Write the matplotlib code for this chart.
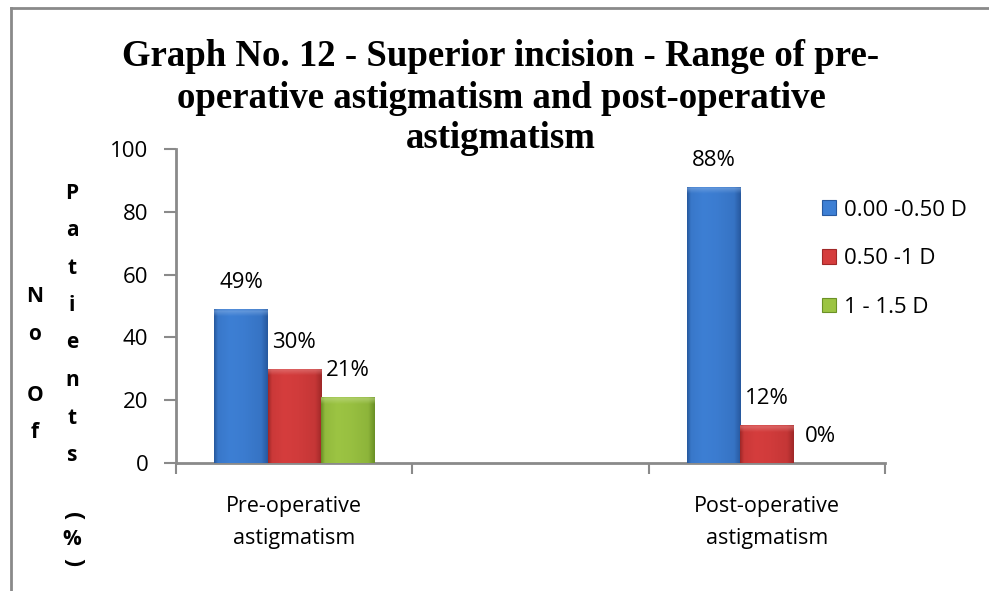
import numpy as np
import matplotlib
matplotlib.use("Agg")
import matplotlib.pyplot as plt
from matplotlib.lines import Line2D
from matplotlib.patches import Patch
from matplotlib.colors import to_rgb

# ---- data -------------------------------------------------------------
categories = ["Pre-operative\nastigmatism", "", "Post-operative\nastigmatism"]
series_names = ["0.00 -0.50 D", "0.50 -1 D", "1 - 1.5 D"]
low_range = [49, None, 88]     # 0.00 - 0.50 D
mid_range = [30, None, 12]     # 0.50 - 1 D
high_range = [21, None, 0]     # 1 - 1.5 D
series_values = [low_range, mid_range, high_range]
y_ticks = [0, 20, 40, 60, 80, 100]
title_lines = ["Graph No. 12 - Superior incision - Range of pre-",
               "operative astigmatism and post-operative",
               "astigmatism"]
ylabel_col1 = "No Of"
ylabel_col2 = "Patients (%)"

# ---- style ------------------------------------------------------------
colors = ["#3d7fd4", "#d53d3d", "#9cc443"]
edge_dark = ["#27599f", "#a02828", "#6b9126"]
axis_grey = "#8a8a8a"
sans = ["Open Sans", "DejaVu Sans"]
fs = 16

W, H = 989, 591
fig = plt.figure(figsize=(W / 100, H / 100), dpi=100)
fig.patch.set_facecolor("white")


def fx(px):
    return px / W


def fy(py):
    return 1 - py / H


ax = fig.add_axes([fx(176), fy(463), (885 - 176) / W, (463 - 149) / H])
ax.set_facecolor("white")

bar_w = 0.225
x = np.arange(len(categories))


def shade_bar(rect, base, dark):
    """Paint a bevelled, cylinder-like gradient inside a bar rectangle."""
    x0, y0 = rect.get_x(), rect.get_y()
    w, h = rect.get_width(), rect.get_height()
    if h <= 0:
        return
    b = np.array(to_rgb(base))
    d = np.array(to_rgb(dark))
    light = np.clip(b + 0.35 * (1 - b), 0, 1)
    nx, ny = 60, 300
    t = np.linspace(0, 1, nx)
    prof = np.interp(t, [0, 0.07, 0.3, 0.55, 0.88, 1.0],
                     [0.0, 0.8, 1.0, 0.92, 0.7, 0.0])
    row = d[None, :] + (b - d)[None, :] * prof[:, None]
    img = np.repeat(row[None, :, :], ny, axis=0)
    # lighter bevel along the top edge (about 2 units tall)
    cap = min(1.0, 2.2 / h)
    v = np.linspace(0, 1, ny)
    k = np.clip((v - (1 - cap)) / cap, 0, 1)[:, None, None]
    k = np.where(v[:, None, None] > 1 - cap * 0.15, 0.3, k * 0.75)
    img = img * (1 - k) + light[None, None, :] * k
    im = ax.imshow(img, extent=[x0, x0 + w, y0, y0 + h], aspect="auto",
                   interpolation="bilinear", zorder=3, origin="lower")
    im.set_clip_path(rect)


for i, (vals, c, dk) in enumerate(zip(series_values, colors, edge_dark)):
    xs = [xi + (i - 1) * bar_w for xi, v in zip(x, vals) if v is not None]
    hs = [v for v in vals if v is not None]
    bars = ax.bar(xs, hs, width=bar_w, color=c, edgecolor="none",
                  zorder=2, label=series_names[i])
    for rect, v in zip(bars, hs):
        shade_bar(rect, c, dk)
        ax.annotate(f"{v}%", (rect.get_x() + rect.get_width() / 2, v),
                    xytext=(0, 19), textcoords="offset points",
                    ha="center", va="center", fontsize=fs, family=sans,
                    color="black", zorder=5)

ax.set_xlim(-0.5, len(categories) - 0.5)
ax.set_ylim(0, 100)
ax.set_yticks(y_ticks)
ax.set_xticks(x)
ax.set_xticklabels(categories, family=sans, fontsize=fs - 0.5,
                   linespacing=1.65)
ax.set_xticks(np.arange(len(categories) + 1) - 0.5, minor=True)
ax.tick_params(axis="x", which="major", length=0, pad=24)
ax.tick_params(axis="x", which="minor", length=8, width=1.5,
               color=axis_grey, direction="out")
ax.tick_params(axis="y", length=9, width=1.5, color=axis_grey,
               direction="out", pad=11, labelsize=fs)
for lab in ax.get_yticklabels():
    lab.set_family(sans)
for side in ("top", "right"):
    ax.spines[side].set_visible(False)
for side in ("left", "bottom"):
    ax.spines[side].set_color(axis_grey)
    ax.spines[side].set_linewidth(2)

# ---- title, one line at a time ------------------------------------------
for line, py in zip(title_lines, (57, 98.5, 139)):
    fig.text(fx(501), fy(py), line, ha="center", va="center",
             family=["Liberation Serif", "DejaVu Serif"], fontweight="bold",
             fontsize=26.5)

# ---- stacked y-axis caption, one letter per line ----------------------
def stacked(text, px, py0, step=37.5):
    py = py0
    for ch in text:
        if ch == " ":
            py += step * 0.62
            continue
        rot = -90 if ch in "()" else 0
        size = 17 if ch in "()" else 15
        fig.text(fx(px), fy(py), ch, ha="center", va="center",
                 family=sans, fontweight="bold", fontsize=size, rotation=rot)
        py += 23 if ch in "(%" else step


stacked(ylabel_col1, 35, 297)
stacked(ylabel_col2, 72, 193)

# ---- legend -------------------------------------------------------------
handles = [Patch(facecolor=c, edgecolor=dk, linewidth=0.8)
           for c, dk in zip(colors, edge_dark)]
fig.legend(handles, series_names, loc="upper left",
           bbox_to_anchor=(fx(815), fy(193)), frameon=False,
           prop={"family": sans, "size": fs}, handlelength=0.65,
           handleheight=0.65, handletextpad=0.35, labelspacing=1.24,
           borderaxespad=0, borderpad=0.3)

# ---- outer chart frame (left and top edges) -----------------------------
fig.add_artist(Line2D([fx(11), fx(11)], [fy(8), 0], color=axis_grey,
                      linewidth=2, transform=fig.transFigure))
fig.add_artist(Line2D([fx(11), 1], [fy(8), fy(8)], color=axis_grey,
                      linewidth=2, transform=fig.transFigure))

fig.savefig("out.png", dpi=100)
